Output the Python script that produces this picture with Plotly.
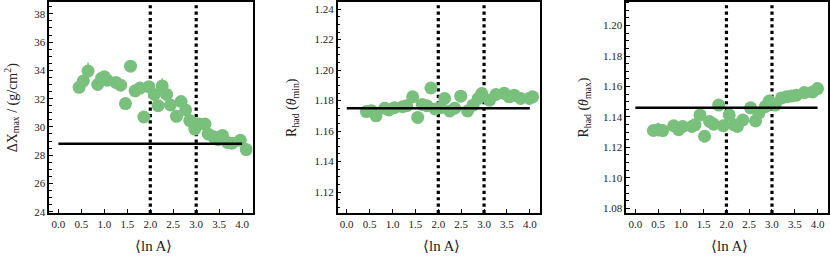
import plotly.graph_objects as go

# ---- data ----
lnA_1 = [0.45, 0.54, 0.645, 0.855, 0.94, 1.0, 1.065, 1.25, 1.355, 1.46, 1.57, 1.67, 1.775, 1.86,
         1.97, 2.09, 2.17, 2.26, 2.355, 2.44, 2.57, 2.67, 2.77, 2.86, 2.97, 3.06, 3.19, 3.26,
         3.38, 3.48, 3.57, 3.68, 3.78, 3.96, 4.09]
dxmax = [32.8, 33.25, 33.95, 33.0, 33.45, 33.55, 33.3, 33.15, 32.95, 31.65, 34.3, 32.55, 32.75, 30.7,
         32.85, 32.3, 31.5, 32.9, 32.3, 31.55, 30.75, 31.8, 31.2, 30.45, 29.85, 30.2, 30.2, 29.5,
         29.3, 29.1, 29.4, 28.9, 28.85, 29.05, 28.4]
dxmax_err = [0.25, 0.25, 0.6, 0.3, 0.3, 0.3, 0.25, 0.25, 0.25, 0.25, 0.25, 0.25, 0.25, 0.25,
             0.25, 0.25, 0.25, 0.55, 0.25, 0.25, 0.25, 0.25, 0.25, 0.25, 0.25, 0.25, 0.25, 0.25,
             0.2, 0.2, 0.2, 0.2, 0.2, 0.2, 0.2]

lnA_2 = [0.43, 0.54, 0.64, 0.83, 0.92, 1.04, 1.22, 1.31, 1.44, 1.55, 1.65, 1.75, 1.84, 1.93,
         2.05, 2.14, 2.25, 2.36, 2.49, 2.64, 2.76, 2.87, 2.95, 3.12, 3.26, 3.44, 3.55, 3.66,
         3.8, 3.99, 4.06]
rhad_min = [1.1728, 1.1734, 1.1700, 1.1750, 1.1739, 1.1754, 1.1760, 1.1767, 1.1825, 1.1690,
            1.1775, 1.1767, 1.1883, 1.1745, 1.1754, 1.1814, 1.1732, 1.1750, 1.1829, 1.1732,
            1.1770, 1.1814, 1.1846, 1.1803, 1.1840, 1.1848, 1.1825, 1.1836, 1.1814, 1.1814,
            1.1825]
rhad_min_err = [0.001] * len(rhad_min)

lnA_3 = [0.395, 0.50, 0.60, 0.84, 0.95, 1.04, 1.24, 1.31, 1.42, 1.52, 1.63, 1.72, 1.83, 1.93,
         2.06, 2.17, 2.24, 2.36, 2.53, 2.64, 2.71, 2.85, 2.94, 3.07, 3.21, 3.32, 3.43, 3.53,
         3.71, 3.89, 4.0]
rhad_max = [1.1311, 1.1316, 1.1310, 1.1342, 1.1316, 1.1337, 1.1337, 1.1348, 1.1413, 1.1273,
            1.1370, 1.1352, 1.1478, 1.1342, 1.1413, 1.1348, 1.1337, 1.1380, 1.1460, 1.1374,
            1.1424, 1.1467, 1.1504, 1.1478, 1.1525, 1.1532, 1.1538, 1.1542, 1.1560, 1.1564,
            1.1586]
rhad_max_err = [0.003, 0.0045, 0.0035, 0.002, 0.002, 0.002, 0.0015, 0.0015, 0.0015, 0.0015,
                0.0015, 0.0015, 0.0015, 0.0015, 0.0015, 0.0015, 0.0015, 0.0015, 0.0015, 0.0015,
                0.0015, 0.0015, 0.0015, 0.0015, 0.0015, 0.0015, 0.0015, 0.0015, 0.0015, 0.0015,
                0.0015]

ref_values = [28.8, 1.175, 1.146]      # horizontal reference lines
ref_span = [0.0, 4.0]
divider_x = [2.0, 3.0]                 # dotted vertical lines

y_titles = ["ΔX<sub>max</sub> / (g/cm<sup>2</sup>)",
            "R<sub>had</sub> (<i>θ</i><sub>min</sub>)",
            "R<sub>had</sub> (<i>θ</i><sub>max</sub>)"]
x_title = "⟨ln A⟩"

# ---- styling / layout ----
GREEN = "#79c07d"
FONT = "Liberation Serif, Times New Roman, serif"
W, H = 830, 258

x_doms = [(49.3, 253.0), (338.0, 541.0), (627.0, 829.0)]
y_top, y_bot = 1.7, 216.5
y_ranges = [(23.9, 38.86), (1.1062, 1.2449), (1.0768, 1.2157)]
y_dticks = [2, 0.02, 0.02]
y_minor = [0.5, 0.005, 0.005]
y_fmt = ["d", ".2f", ".2f"]
title_x = [12, 293, 585]

series = [(lnA_1, dxmax, dxmax_err), (lnA_2, rhad_min, rhad_min_err), (lnA_3, rhad_max, rhad_max_err)]

fig = go.Figure()
annotations = []
for i in range(3):
    xa = "x" if i == 0 else f"x{i+1}"
    ya = "y" if i == 0 else f"y{i+1}"
    xs, ys, es = series[i]
    y0, y1 = y_ranges[i]
    for dx in divider_x:
        fig.add_trace(go.Scatter(x=[dx, dx], y=[y0, y1], mode="lines",
                                 line=dict(color="black", width=3.2, dash="dot"),
                                 xaxis=xa, yaxis=ya, showlegend=False, hoverinfo="skip"))
    fig.add_trace(go.Scatter(x=xs, y=ys, mode="markers",
                             marker=dict(color=GREEN, size=13),
                             error_y=dict(type="data", array=es, color=GREEN, thickness=1.5, width=0),
                             xaxis=xa, yaxis=ya, showlegend=False))
    fig.add_trace(go.Scatter(x=ref_span, y=[ref_values[i]] * 2, mode="lines",
                             line=dict(color="black", width=2.5),
                             xaxis=xa, yaxis=ya, showlegend=False, hoverinfo="skip"))

    axis_common = dict(showline=True, mirror=True, linecolor="black", linewidth=1.5,
                       ticks="inside", tickcolor="black", showgrid=False, zeroline=False,
                       tickfont=dict(family=FONT, size=11, color="#222"))
    fig.update_layout(**{
        ("xaxis" if i == 0 else f"xaxis{i+1}"): dict(
            domain=[x_doms[i][0] / W, x_doms[i][1] / W], range=[-0.2, 4.23],
            tick0=0, dtick=0.5, tickformat=".1f", ticklen=4, anchor=ya, **axis_common),
        ("yaxis" if i == 0 else f"yaxis{i+1}"): dict(
            domain=[1 - y_bot / H, 1 - y_top / H], range=[y0, y1],
            tick0=0, dtick=y_dticks[i], tickformat=y_fmt[i], ticklen=4, anchor=xa,
            minor=dict(dtick=y_minor[i], ticks="inside", ticklen=3, tickcolor="black"),
            **axis_common),
    })
    annotations.append(dict(text=y_titles[i], x=title_x[i] / W, y=1 - 109 / H,
                            xref="paper", yref="paper", textangle=-90, showarrow=False,
                            xanchor="center", yanchor="middle",
                            font=dict(family=FONT, size=14, color="#222")))
    annotations.append(dict(text=x_title, x=(x_doms[i][0] + x_doms[i][1]) / 2 / W + 0.003,
                            y=1 - 250 / H, xref="paper", yref="paper", showarrow=False,
                            xanchor="center", yanchor="middle",
                            font=dict(family=FONT, size=15, color="#222")))

fig.update_layout(width=W, height=H, margin=dict(l=0, r=0, t=0, b=0),
                  paper_bgcolor="white", plot_bgcolor="white", annotations=annotations)
fig.write_html("out.html", config={"displayModeBar": False},
               post_script="document.body.style.margin='0';document.body.style.padding='0';")
